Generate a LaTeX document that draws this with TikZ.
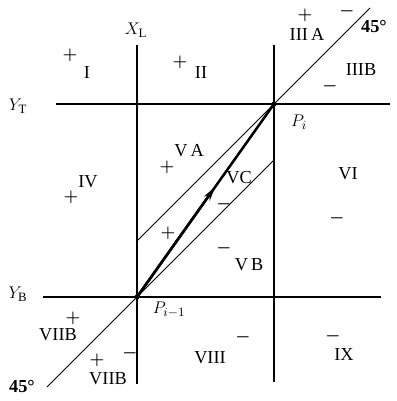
\documentclass[tikz,border=0pt]{standalone}
\usepackage{fontspec}
\setmainfont{Liberation Serif}
\usepackage{tikz}
\usetikzlibrary{arrows.meta, calc}

\begin{document}
\begin{tikzpicture}[
    x=0.025cm, y=-0.025cm,
    bound/.style={line width=1pt},
    diag/.style={line width=0.6pt},
    path/.style={line width=1.8pt},
    zone/.style={inner sep=0pt, font=\fontsize{13}{15}\selectfont},
    sign/.style={inner sep=0pt, font=\fontsize{13}{15}\selectfont\boldmath}
  ]
    \useasboundingbox (0,0) rectangle (396,401);
    % boundary lines
    \coordinate (Pi) at (274,104);
    \coordinate (Pim) at (137,297);
    \coordinate (xltop) at (137,45);
    \coordinate (xlbot) at (137,384);
    \coordinate (xrtop) at (274,45);
    \coordinate (xrbot) at (274,382);
    \coordinate (ytl) at (56,104);
    \coordinate (ytr) at (390,104);
    \coordinate (ybl) at (43,297);
    \coordinate (ybr) at (381,297);
    \draw[bound] (xltop) -- (xlbot);
    \draw[bound] (xrtop) -- (xrbot);
    \draw[bound] (ytl) -- (ytr);
    \draw[bound] (ybl) -- (ybr);
    % 45 degree lines
    \coordinate (ua) at (137,241);
    \coordinate (ub) at (370,8);
    \coordinate (la) at (47,387);
    \coordinate (lb) at (274,160);
    \draw[diag] (ua) -- (Pi) -- (ub);
    \draw[diag] (la) -- (Pim) -- (lb);
    % step vector
    \draw[path, line cap=round] (Pim) -- (Pi);
    \draw[path, -{Stealth[length=10pt, width=5pt]}] (Pim) -- ($(Pim)!0.57!(Pi)$);
    \fill (Pi) circle (2.5);
    \fill (Pim) circle (2.5);
    % axis labels
    \node[zone] (xl) at (136,30) {$X_{\mathrm{L}}$};
    \node[zone] (yt) at (18,106) {$Y_{\mathrm{T}}$};
    \node[zone] (yb) at (18,294) {$Y_{\mathrm{B}}$};
    \node[zone] (pilab) at (299,122) {$P_i$};
    \node[zone] (pimlab) at (169,310) {$P_{i-1}$};
    \node[zone, font=\fontsize{13}{15}\selectfont\bfseries] (degup) at (374,27) {45°};
    \node[zone, font=\fontsize{13}{15}\selectfont\bfseries] (deglo) at (22,387) {45°};
    % zone labels
    \node[zone] (z1) at (87,73) {I};
    \node[zone] (z2) at (201,73) {II};
    \node[zone] (z3a) at (307,34) {III\,A};
    \node[zone] (z3b) at (361,70) {IIIB};
    \node[zone] (z4) at (88,182) {IV};
    \node[zone] (z5a) at (189,151) {V\,A};
    \node[zone] (z5c) at (239,178) {VC};
    \node[zone] (z5b) at (249,265) {V\,B};
    \node[zone] (z6) at (348,174) {VI};
    \node[zone] (z7u) at (58,335) {VIIB};
    \node[zone] (z7l) at (108,379) {VIIB};
    \node[zone] (z8) at (210,358) {VIII};
    \node[zone] (z9) at (344,355) {IX};
    % signs
    \node[sign] (s1) at (70,55) {$+$};
    \node[sign] (s2) at (180,62) {$+$};
    \node[sign] (s3a) at (305,15) {$+$};
    \node[sign] (s3m) at (347,11) {$-$};
    \node[sign] (s3b) at (330,86) {$-$};
    \node[sign] (s5a) at (167,167) {$+$};
    \node[sign] (s4) at (71,197) {$+$};
    \node[sign] (s5c) at (224,204) {$-$};
    \node[sign] (s5p) at (168,233) {$+$};
    \node[sign] (s5b) at (224,248) {$-$};
    \node[sign] (s6) at (337,218) {$-$};
    \node[sign] (s7u) at (73,318) {$+$};
    \node[sign] (s7l) at (97,360) {$+$};
    \node[sign] (s7m) at (130,353) {$-$};
    \node[sign] (s8) at (243,337) {$-$};
    \node[sign] (s9) at (333,336) {$-$};
\end{tikzpicture}
\end{document}
